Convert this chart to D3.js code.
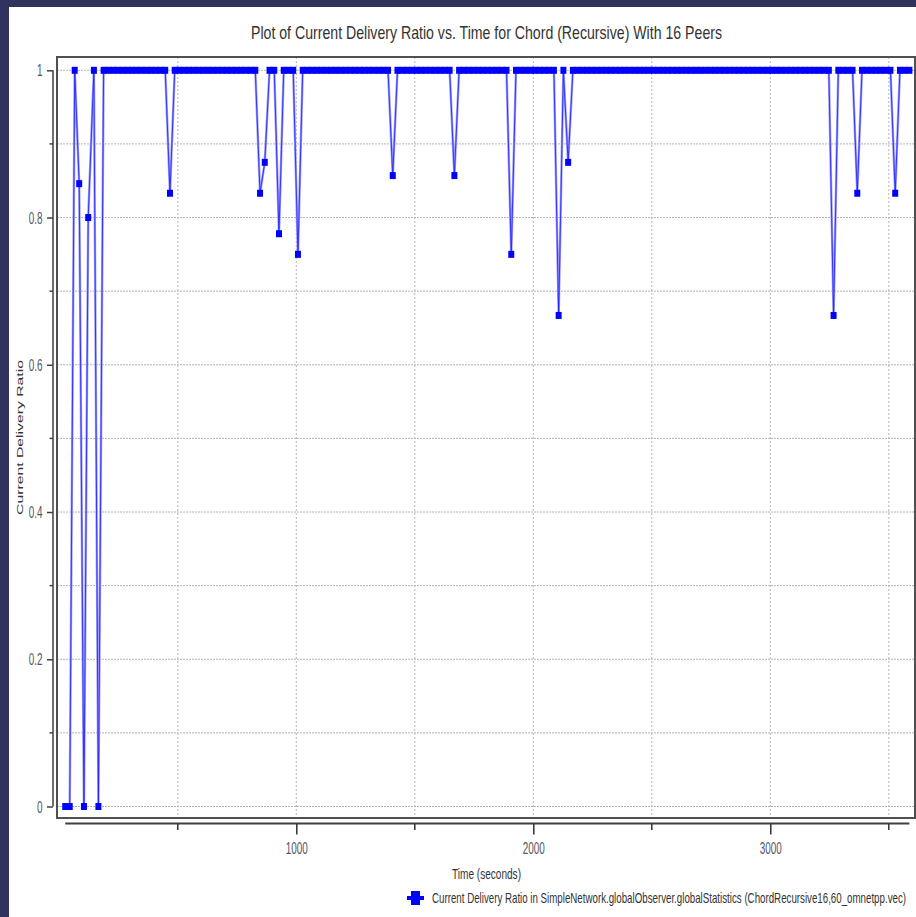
<!DOCTYPE html>
<html>
<head>
<meta charset="utf-8">
<script src="https://cdn.jsdelivr.net/npm/d3@7"></script>
<style>
    body { margin: 0; background: #ffffff; }
    svg { display: block; font-family: Arial, "Liberation Sans", sans-serif; }
</style>
</head>
<body>
<svg id="chart"></svg>
<script>
//sample times (seconds) of the current delivery ratio vector
const times = [
    25, 44, 65, 84, 104, 122, 146, 165,
    187, 207, 227, 247, 267, 287, 307, 327, 347, 367,
    387, 407, 427, 447, 467, 487, 507, 527, 547, 567,
    587, 607, 627, 647, 667, 687, 707, 727, 747, 767,
    787, 807, 827, 847, 867, 887, 907, 927, 947, 967,
    987, 1007, 1027, 1047, 1067, 1087, 1107, 1127, 1147, 1167,
    1187, 1207, 1227, 1247, 1267, 1287, 1307, 1327, 1347, 1367,
    1387, 1407, 1427, 1447, 1467, 1487, 1507, 1527, 1547, 1567,
    1587, 1607, 1627, 1647, 1667, 1687, 1707, 1727, 1747, 1767,
    1787, 1807, 1827, 1847, 1867, 1887, 1907, 1927, 1947, 1967,
    1987, 2007, 2027, 2047, 2067, 2087, 2107, 2127, 2147, 2167,
    2187, 2207, 2227, 2247, 2267, 2287, 2307, 2327, 2347, 2367,
    2387, 2407, 2427, 2447, 2467, 2487, 2507, 2527, 2547, 2567,
    2587, 2607, 2627, 2647, 2667, 2687, 2707, 2727, 2747, 2767,
    2787, 2807, 2827, 2847, 2867, 2887, 2907, 2927, 2947, 2967,
    2987, 3007, 3027, 3047, 3067, 3087, 3107, 3127, 3147, 3167,
    3187, 3207, 3227, 3247, 3267, 3287, 3307, 3327, 3347, 3367,
    3387, 3407, 3427, 3447, 3467, 3487, 3507, 3527, 3547, 3567,
    3587
]

//delivery ratio at each of those times
const ratios = [
    0, 0, 1, 0.846, 0, 0.8, 1, 0,
    1, 1, 1, 1, 1, 1, 1, 1, 1, 1,
    1, 1, 1, 1, 0.833, 1, 1, 1, 1, 1,
    1, 1, 1, 1, 1, 1, 1, 1, 1, 1,
    1, 1, 1, 0.833, 0.875, 1, 1, 0.778, 1, 1,
    1, 0.75, 1, 1, 1, 1, 1, 1, 1, 1,
    1, 1, 1, 1, 1, 1, 1, 1, 1, 1,
    1, 0.857, 1, 1, 1, 1, 1, 1, 1, 1,
    1, 1, 1, 1, 0.857, 1, 1, 1, 1, 1,
    1, 1, 1, 1, 1, 1, 0.75, 1, 1, 1,
    1, 1, 1, 1, 1, 1, 0.667, 1, 0.875, 1,
    1, 1, 1, 1, 1, 1, 1, 1, 1, 1,
    1, 1, 1, 1, 1, 1, 1, 1, 1, 1,
    1, 1, 1, 1, 1, 1, 1, 1, 1, 1,
    1, 1, 1, 1, 1, 1, 1, 1, 1, 1,
    1, 1, 1, 1, 1, 1, 1, 1, 1, 1,
    1, 1, 1, 1, 0.667, 1, 1, 1, 1, 0.833,
    1, 1, 1, 1, 1, 1, 1, 0.833, 1, 1,
    1
]

//tick values
const xMajorTicks = [1000, 2000, 3000]
const xMinorTicks = [500, 1500, 2500, 3500]
const yMajorTicks = [0, 0.2, 0.4, 0.6, 0.8, 1]
const yMinorTicks = [0.1, 0.3, 0.5, 0.7, 0.9]

const title = 'Plot of Current Delivery Ratio vs. Time for Chord (Recursive) With 16 Peers'
const xLabel = 'Time (seconds)'
const yLabel = 'Current Delivery Ratio'
const legendLabel = 'Current Delivery Ratio in SimpleNetwork.globalObserver.globalStatistics (ChordRecursive16,60_omnetpp.vec)'

const svgWidth = 916
const svgHeight = 917
const squish = 0.62   // the whole picture is squeezed sideways, text too

const data = times.map((t, i) => ({time: t, ratio: ratios[i]}))

const svg = d3.select('#chart')
    .attr('width', svgWidth)
    .attr('height', svgHeight)

//dark frame round the window
svg.append('rect')
    .attr('width', svgWidth).attr('height', svgHeight)
    .attr('fill', '#32325f')
svg.append('rect')
    .attr('x', 9).attr('y', 7)
    .attr('width', svgWidth - 9).attr('height', svgHeight - 7)
    .attr('fill', '#ffffff')

const plot = {left: 57, top: 57, right: 915, bottom: 818}

const xScale = d3.scaleLinear()
    .domain([0, 3600])
    .range([59.3, 912.5])

const yScale = d3.scaleLinear()
    .domain([0, 1])
    .range([806.5, 70.3])

//grid lines
const grid = svg.append('g')
grid.selectAll('.vgrid')
    .data(xMajorTicks.concat(xMinorTicks))
    .enter()
    .append('line')
    .attr('x1', d => xScale(d)).attr('x2', d => xScale(d))
    .attr('y1', plot.top).attr('y2', plot.bottom)
    .attr('stroke', '#b4b4b4')
    .attr('stroke-dasharray', '2,2')
grid.selectAll('.hgrid')
    .data(yMajorTicks.concat(yMinorTicks))
    .enter()
    .append('line')
    .attr('x1', plot.left).attr('x2', plot.right)
    .attr('y1', d => yScale(d)).attr('y2', d => yScale(d))
    .attr('stroke', '#b4b4b4')
    .attr('stroke-dasharray', '2,1')

//plot frame
svg.append('rect')
    .attr('x', plot.left).attr('y', plot.top)
    .attr('width', plot.right - plot.left)
    .attr('height', plot.bottom - plot.top)
    .attr('fill', 'none')
    .attr('stroke', '#505050')
    .attr('stroke-width', 2)

//series line: pale wide stroke under a thin blue one
const line = d3.line()
    .x(d => xScale(d.time))
    .y(d => yScale(d.ratio))

svg.append('path')
    .datum(data)
    .attr('d', line)
    .attr('fill', 'none')
    .attr('stroke', '#9c9cff')
    .attr('stroke-width', 2.4)
svg.append('path')
    .datum(data)
    .attr('d', line)
    .attr('fill', 'none')
    .attr('stroke', '#1a1aff')
    .attr('stroke-width', 0.8)

svg.selectAll('.marker')
    .data(data)
    .enter()
    .append('rect')
    .attr('x', d => xScale(d.time) - 3)
    .attr('y', d => yScale(d.ratio) - 3.5)
    .attr('width', 6)
    .attr('height', 7)
    .attr('fill', '#0000ff')

//y axis
const yAxis = svg.append('g')
    .attr('transform', 'translate(53,0)')
    .call(d3.axisLeft(yScale)
        .tickValues(yMajorTicks)
        .tickSize(6)
        .tickPadding(0)
        .tickFormat(d3.format('')))
yAxis.select('.domain')
    .attr('d', `M0,${yScale(1)}V${yScale(0)}`)
    .attr('stroke', '#404040')
    .attr('stroke-width', 1.5)
yAxis.selectAll('.tick line').attr('stroke', '#404040').attr('stroke-width', 1.5)
yAxis.selectAll('.tick text')
    .attr('x', null)
    .attr('dy', null)
    .attr('y', 5.5)
    .attr('font-size', 16)
    .attr('fill', '#555566')
    .attr('text-anchor', 'end')
    .attr('transform', `translate(-10.5,0) scale(${squish},1)`)

svg.append('g')
    .selectAll('line')
    .data(yMinorTicks)
    .enter()
    .append('line')
    .attr('x1', 49.5).attr('x2', 53)
    .attr('y1', d => yScale(d)).attr('y2', d => yScale(d))
    .attr('stroke', '#404040')
    .attr('stroke-width', 1.5)

//x axis, drawn a little below the frame
const xAxis = svg.append('g')
    .attr('transform', 'translate(0,823.5)')
    .call(d3.axisBottom(xScale)
        .tickValues(xMajorTicks)
        .tickSize(11)
        .tickPadding(0)
        .tickFormat(d3.format('')))
xAxis.select('.domain')
    .attr('d', `M${xScale(d3.min(times))},0H${xScale(d3.max(times))}`)
    .attr('stroke', '#404040')
    .attr('stroke-width', 2)
xAxis.selectAll('.tick line').attr('stroke', '#303030').attr('stroke-width', 1.5)
xAxis.selectAll('.tick text')
    .attr('y', null)
    .attr('dy', null)
    .attr('font-size', 16)
    .attr('fill', '#555566')
    .attr('transform', `translate(0,30.5) scale(${squish},1)`)

svg.append('g')
    .selectAll('line')
    .data(xMinorTicks)
    .enter()
    .append('line')
    .attr('x1', d => xScale(d)).attr('x2', d => xScale(d))
    .attr('y1', 823.5).attr('y2', 830)
    .attr('stroke', '#303030')
    .attr('stroke-width', 1.5)

//title
svg.append('text')
    .attr('x', 486.5).attr('y', 39)
    .attr('text-anchor', 'middle')
    .attr('font-size', 18.5)
    .attr('textLength', 471)
    .attr('lengthAdjust', 'spacingAndGlyphs')
    .attr('fill', '#333333')
    .text(title)

//axis labels
svg.append('text')
    .attr('x', 486.5).attr('y', 879)
    .attr('text-anchor', 'middle')
    .attr('font-size', 15)
    .attr('textLength', 69)
    .attr('lengthAdjust', 'spacingAndGlyphs')
    .attr('fill', '#333333')
    .text(xLabel)

svg.append('text')
    .attr('transform', `translate(23,437.5) scale(${squish},1) rotate(-90)`)
    .attr('text-anchor', 'middle')
    .attr('font-size', 15)
    .attr('textLength', 155)
    .attr('lengthAdjust', 'spacingAndGlyphs')
    .attr('fill', '#333333')
    .text(yLabel)

//legend
const legend = svg.append('g')
legend.append('line')
    .attr('x1', 407).attr('x2', 424)
    .attr('y1', 898).attr('y2', 898)
    .attr('stroke', '#0000ff')
    .attr('stroke-width', 4)
legend.append('rect')
    .attr('x', 411).attr('y', 891)
    .attr('width', 9).attr('height', 14)
    .attr('fill', '#0000ff')
legend.append('text')
    .attr('x', 432).attr('y', 903)
    .attr('font-size', 15)
    .attr('textLength', 474)
    .attr('lengthAdjust', 'spacingAndGlyphs')
    .attr('fill', '#333333')
    .text(legendLabel)
</script>
</body>
</html>
